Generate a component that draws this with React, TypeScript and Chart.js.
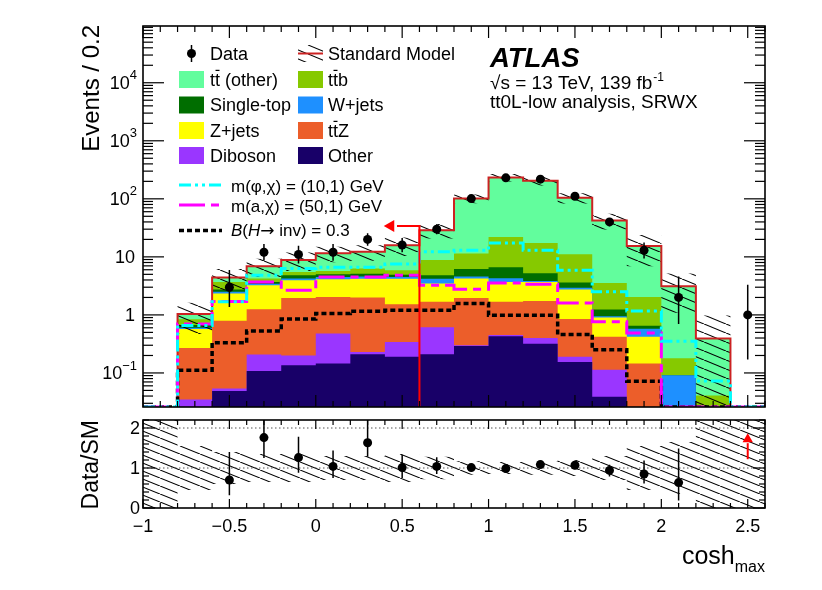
import React, { useEffect, useRef } from 'react'
import { Chart, registerables } from 'chart.js'

Chart.register(...registerables)

const FONT = '"Liberation Sans", Arial, Helvetica, sans-serif'

// cosh_max bins, width 0.2
const binEdges = [-1, -0.8, -0.6, -0.4, -0.2, 0, 0.2, 0.4, 0.6, 0.8, 1, 1.2, 1.4, 1.6, 1.8, 2, 2.2, 2.4, 2.6]

// SM backgrounds per bin, bottom of the stack first
const otherBkg = [0, 0, 0.049, 0.108, 0.136, 0.145, 0.21, 0.19, 0.21, 0.29, 0.43, 0.32, 0.155, 0.039, 0, 0, 0, 0]
const diboson = [0, 0.035, 0.005, 0.1, 0.064, 0.335, 0.02, 0.15, 0.4, 0.01, 0.02, 0.08, 0.035, 0.075, 0, 0, 0, 0]
const ttZ = [0, 0.235, 0.736, 1.04, 1.76, 1.56, 1.77, 1.19, 1.07, 1.66, 1.23, 1.34, 0.66, 0.306, 0.145, 0, 0, 0]
const zJets = [0, 0.3, 1.55, 2.0, 2.0, 2.06, 2.2, 2.67, 1.79, 2.28, 2.02, 1.96, 1.89, 0.48, 0.275, 0, 0, 0]
const wJets = [0, 0.03, 0.16, 0.2, 0.3, 0.4, 0.4, 0.3, 0.73, 0.36, 0.6, 0.15, 0.2, 0.05, 0.16, 0.091, 0, 0]
const singleTop = [0, 0.07, 0.24, 0.25, 0.54, 0.5, 0.5, 0.4, 0.6, 1.6, 2.3, 1.35, 0.66, 0.29, 0.07, 0, 0, 0]
const ttb = [0, 0.17, 0.96, 0.54, 0.7, 0.7, 1.2, 1.0, 4.0, 5.2, 15.4, 12.2, 7.5, 2.32, 1.39, 0.089, 0.041, 0]
const ttOther = [0, 0.2, 0.7, 2.66, 3.3, 5.8, 5.9, 10, 20, 89.6, 212, 186.6, 93, 38.9, 13.3, 2.94, 0.35, 0]

const stackColors = ['#180068', '#9a36ff', '#ec5e2a', '#ffff00', '#1e90ff', '#006e00', '#86c900', '#62fd9d']

// relative SM uncertainty per bin
const smUnc = [1.5, 0.55, 0.4, 0.35, 0.35, 0.3, 0.3, 0.35, 0.28, 0.17, 0.15, 0.17, 0.2, 0.3, 0.55, 0.65, 1.5, 1.5]

// signal hypotheses
const sigPhi = [0, 0.66, 1.68, 4.8, 6.3, 6.6, 6.6, 7.5, 12.2, 13, 17.4, 13, 5.9, 2.5, 1.17, 0.35, 0.073, 0]
const sigA = [0, 0.7, 1.7, 3.7, 2.67, 4.5, 4.5, 4.8, 3.25, 2.77, 3.56, 3.38, 1.61, 0.76, 0.49, 0, 0, 0]
const sigHinv = [0, 0.111, 0.33, 0.53, 0.85, 1.06, 1.16, 1.2, 1.2, 1.57, 0.99, 0.99, 0.46, 0.25, 0.072, 0, 0, 0]

// data
const dataX = [-0.5, -0.3, -0.1, 0.1, 0.3, 0.5, 0.7, 0.9, 1.1, 1.3, 1.5, 1.7, 1.9, 2.1, 2.5]
const dataY = [3, 12, 11, 12, 20, 16, 30, 101, 230, 218, 111, 40, 13, 2, 1]
const dataLo = [1.37, 8.6, 7.7, 8.6, 15.6, 12.0, 24.6, 91, 215, 203, 101, 33.7, 9.4, 0.7, 0.17]
const dataHi = [5.92, 16.6, 15.5, 16.6, 25.5, 21.1, 36.5, 111, 245, 234, 122, 46.8, 17.6, 4.6, 3.3]

// Data / SM
const ratioX = [-0.5, -0.3, -0.1, 0.1, 0.3, 0.5, 0.7, 0.9, 1.1, 1.3, 1.5, 1.7, 1.9, 2.1]
const ratioY = [0.7, 1.76, 1.26, 1.04, 1.63, 1.01, 1.04, 1.01, 0.985, 1.085, 1.07, 0.94, 0.85, 0.635]
const ratioLo = [0.32, 1.25, 0.88, 0.75, 1.28, 0.75, 0.85, 0.91, 0.92, 1.0, 0.97, 0.79, 0.61, 0.19]
const ratioHi = [1.4, 2.3, 1.78, 1.44, 2.3, 1.33, 1.27, 1.1, 1.05, 1.16, 1.17, 1.08, 1.19, 1.49]

// arrows (signal region cut, off-scale ratio point)
const cutX = 0.6
const cutArrowY = 34
const cutArrowEnd = 0.47
const cutArrowTip = 0.434
const offScaleX = 2.5
const offScaleArrow = [1.22, 1.62, 1.72]

const xTickLabels = [[-1, '−1'], [-0.5, '−0.5'], [0, '0'], [0.5, '0.5'], [1, '1'], [1.5, '1.5'], [2, '2'], [2.5, '2.5']]
const yTickLabels = [[1e4, '10', '4'], [1e3, '10', '3'], [1e2, '10', '2'], [10, '10', ''], [1, '1', ''], [0.1, '10', '−1']]

const Y_MIN = 0.0259
const Y_MAX = 9.5e4
const R_MIN = 0
const R_MAX = 2.2
const FLOOR = Y_MIN * 0.5

const steps = (vals: number[], floor: number, ceil = Infinity) => {
  const pts = vals.map((v, i) => ({ x: binEdges[i], y: Math.min(Math.max(v, floor), ceil) }))
  pts.push({ x: binEdges[vals.length], y: pts[pts.length - 1].y })
  return pts
}

const errorBars = (xs: number[], lo: number[], hi: number[]) => {
  const pts: any[] = []
  xs.forEach((x, i) => pts.push({ x, y: lo[i] }, { x, y: hi[i] }, { x, y: null }))
  return pts
}

function makeHatch(w: number, h: number) {
  const c = document.createElement('canvas')
  c.width = w
  c.height = h
  const g = c.getContext('2d')!
  g.strokeStyle = '#000'
  g.lineWidth = 1.1
  for (const dx of [-w, 0, w]) {
    g.beginPath()
    g.moveTo(dx, 0)
    g.lineTo(dx + w, h)
    g.stroke()
  }
  return g.createPattern(c, 'repeat')
}

function seg(ctx: CanvasRenderingContext2D, x1: number, y1: number, x2: number, y2: number) {
  ctx.beginPath()
  ctx.moveTo(x1, y1)
  ctx.lineTo(x2, y2)
  ctx.stroke()
}

function text(ctx: CanvasRenderingContext2D, s: string, x: number, y: number, size: number, align: CanvasTextAlign = 'left', style = '', family = FONT) {
  ctx.font = `${style} ${size}px ${family}`
  ctx.textAlign = align
  ctx.fillText(s, x, y)
  return ctx.measureText(s).width
}

// text with a bar over one character (t-bar)
function barText(ctx: CanvasRenderingContext2D, s: string, barAt: number, x: number, y: number, size: number) {
  ctx.font = `${size}px ${FONT}`
  ctx.textAlign = 'left'
  ctx.fillText(s, x, y)
  const x0 = x + ctx.measureText(s.slice(0, barAt)).width
  const w = ctx.measureText(s[barAt]).width
  ctx.lineWidth = 1.2
  seg(ctx, x0 + 0.5, y - size * 0.84, x0 + w - 0.5, y - size * 0.84)
}

export default function App() {
  const mainRef = useRef<HTMLCanvasElement | null>(null)
  const ratioRef = useRef<HTMLCanvasElement | null>(null)

  useEffect(() => {
    document.body.style.margin = '0'
    if (!mainRef.current || !ratioRef.current) return
    const hatchMain = makeHatch(22, 9)
    const hatchRatio = makeHatch(20, 8)

    const layers = [otherBkg, diboson, ttZ, zJets, wJets, singleTop, ttb, ttOther]
    const cum: number[][] = []
    layers.forEach((l, k) => cum.push(l.map((v, i) => v + (k > 0 ? cum[k - 1][i] : 0))))
    const total = cum[cum.length - 1]
    const bandLo = total.map((t, i) => t * (1 - smUnc[i]))
    const bandHi = total.map((t, i) => t * (1 + smUnc[i]))

    const stackSets = cum.map((c, k) => ({
      data: steps(c, FLOOR),
      stepped: true,
      borderWidth: 0,
      pointRadius: 0,
      fill: 'start',
      backgroundColor: stackColors[k],
      order: 40 + k,
    }))

    const mainAxes = {
      id: 'mainAxes',
      afterDraw(chart: any) {
        const ctx: CanvasRenderingContext2D = chart.ctx
        const { left, right, top, bottom } = chart.chartArea
        const xs = chart.scales.x
        const ys = chart.scales.y
        ctx.save()
        ctx.strokeStyle = '#000'
        ctx.fillStyle = '#000'
        ctx.lineWidth = 1.2
        for (let k = -10; k <= 26; k++) {
          const px = xs.getPixelForValue(k / 10)
          const len = k % 5 === 0 ? 12 : 6
          seg(ctx, px, bottom, px, bottom - len)
          seg(ctx, px, top, px, top + len)
        }
        for (let d = -2; d <= 5; d++) {
          for (let m = 1; m <= 9; m++) {
            const v = m * Math.pow(10, d)
            if (v < Y_MIN || v > Y_MAX) continue
            const py = ys.getPixelForValue(v)
            const len = m === 1 ? 21 : 10
            seg(ctx, left, py, left + len, py)
            seg(ctx, right, py, right - len, py)
          }
        }
        ctx.lineWidth = 1.6
        ctx.strokeRect(left, top, right - left, bottom - top)

        ctx.textBaseline = 'middle'
        yTickLabels.forEach(([v, base, sup]: any) => {
          const py = ys.getPixelForValue(v)
          if (sup) {
            ctx.font = `13px ${FONT}`
            const ws = ctx.measureText(sup).width
            text(ctx, sup, 137 - ws, py - 7, 13)
            text(ctx, base, 137 - ws, py + 1, 18, 'right')
          } else {
            text(ctx, base, 135, py + 1, 18, 'right')
          }
        })

        ctx.save()
        ctx.translate(92, 25)
        ctx.rotate(-Math.PI / 2)
        text(ctx, 'Events / 0.2', 0, 0, 24, 'right')
        ctx.restore()

        // legend
        ctx.textBaseline = 'alphabetic'
        const rows = [53.5, 79.5, 105, 130.5, 155.5]
        const lx1 = 179
        const lx2 = 298
        const fs = 18
        ctx.lineWidth = 1.5
        seg(ctx, 191.5, 45, 191.5, 62)
        ctx.beginPath()
        ctx.arc(191.5, rows[0], 4.5, 0, Math.PI * 2)
        ctx.fill()
        text(ctx, 'Data', 210, rows[0] + 6, fs)
        ctx.save()
        ctx.beginPath()
        ctx.rect(lx2, rows[0] - 8.5, 25, 17)
        ctx.clip()
        ctx.fillStyle = hatchMain as any
        ctx.fillRect(lx2, rows[0] - 8.5, 25, 17)
        ctx.restore()
        ctx.strokeStyle = '#cc2222'
        ctx.lineWidth = 2
        seg(ctx, lx2, rows[0], lx2 + 25, rows[0])
        ctx.strokeStyle = '#000'
        text(ctx, 'Standard Model', 328, rows[0] + 6, fs)

        const entries: [number, number, number, string, number][] = [
          [1, 0, 7, 'tt (other)', 1],
          [1, 1, 6, 'ttb', 1],
          [2, 0, 5, 'Single-top', -1],
          [2, 1, 4, 'W+jets', -1],
          [3, 0, 3, 'Z+jets', -1],
          [3, 1, 2, 'ttZ', 1],
          [4, 0, 1, 'Diboson', -1],
          [4, 1, 0, 'Other', -1],
        ]
        entries.forEach(([r, c, k, label, bar]) => {
          const bx = c === 0 ? lx1 : lx2
          ctx.fillStyle = stackColors[k]
          ctx.fillRect(bx, rows[r] - 8.5, 25, 17)
          ctx.fillStyle = '#000'
          const tx = c === 0 ? 210 : 328
          if (bar >= 0) barText(ctx, label, bar, tx, rows[r] + 6, fs)
          else text(ctx, label, tx, rows[r] + 6, fs)
        })

        const sigLeg: [number, string, number[], number][] = [
          [185, '#00ffff', [12, 4, 3, 4, 3, 4], 3],
          [205, '#ff00ff', [26, 6, 8, 6], 3],
          [230.5, '#000000', [5, 3], 3.5],
        ]
        sigLeg.forEach(([y, col, dash, lw]) => {
          ctx.strokeStyle = col
          ctx.lineWidth = lw
          ctx.setLineDash(dash)
          seg(ctx, lx1, y, 222, y)
        })
        ctx.setLineDash([])
        ctx.strokeStyle = '#000'
        const sfs = 17
        text(ctx, 'm(φ,χ) = (10,1) GeV', 231, 191.5, sfs)
        text(ctx, 'm(a,χ) = (50,1) GeV', 231, 211.5, sfs)
        let bx = 231
        bx += text(ctx, 'B', bx, 236, sfs, 'left', 'italic')
        bx += text(ctx, '(', bx, 236, sfs)
        bx += text(ctx, 'H', bx, 236, sfs, 'left', 'italic')
        bx += text(ctx, '→', bx, 236, sfs, 'left', '', '"DejaVu Sans", sans-serif')
        text(ctx, ' inv) = 0.3', bx, 236, sfs)

        // ATLAS label
        text(ctx, 'ATLAS', 490, 67, 27.5, 'left', 'italic bold')
        const w1 = text(ctx, '√s = 13 TeV, 139 fb', 490, 88.5, 19)
        text(ctx, '-1', 490 + w1 + 1, 81, 12)
        text(ctx, 'tt0L-low analysis, SRWX', 490, 107.5, 19)
        ctx.restore()
      },
    }

    const ratioAxes = {
      id: 'ratioAxes',
      afterDraw(chart: any) {
        const ctx: CanvasRenderingContext2D = chart.ctx
        const { left, right, top, bottom } = chart.chartArea
        const xs = chart.scales.x
        const ys = chart.scales.y
        ctx.save()
        ctx.strokeStyle = '#000'
        ctx.fillStyle = '#000'
        ctx.lineWidth = 1.2
        for (let k = -10; k <= 26; k++) {
          const px = xs.getPixelForValue(k / 10)
          const len = k % 5 === 0 ? 9 : 5
          seg(ctx, px, bottom, px, bottom - len)
          seg(ctx, px, top, px, top + len)
        }
        for (let k = 0; k <= 11; k++) {
          const py = ys.getPixelForValue(k / 5)
          const len = k % 5 === 0 ? 12 : 6
          seg(ctx, left, py, left + len, py)
          seg(ctx, right, py, right - len, py)
        }
        ctx.lineWidth = 1.6
        ctx.strokeRect(left, top, right - left, bottom - top)

        ctx.textBaseline = 'middle'
        ;[0, 1, 2].forEach((v) => text(ctx, String(v), 140, ys.getPixelForValue(v) + 1, 18, 'right'))
        xTickLabels.forEach(([v, s]: any) => text(ctx, s, xs.getPixelForValue(v), 113, 18, 'center'))

        ctx.textBaseline = 'alphabetic'
        ctx.font = `16px ${FONT}`
        const wSub = ctx.measureText('max').width
        text(ctx, 'max', 765 - wSub, 158, 16)
        text(ctx, 'cosh', 765 - wSub, 150, 25, 'right')

        ctx.save()
        ctx.translate(92, 6)
        ctx.rotate(-Math.PI / 2)
        ctx.textBaseline = 'middle'
        text(ctx, 'Data/SM', 0, 0, 23, 'right')
        ctx.restore()
        ctx.restore()
      },
    }

    const baseOptions = (yScale: any, padding: any) => ({
      animation: false as const,
      responsive: false,
      maintainAspectRatio: false,
      layout: { padding },
      elements: { point: { radius: 0 }, line: { tension: 0 } },
      plugins: { legend: { display: false }, tooltip: { enabled: false } },
      scales: {
        x: { type: 'linear' as const, min: -1, max: 2.6, display: false },
        y: yScale,
      },
    })

    const main = new Chart(mainRef.current, {
      type: 'line',
      data: {
        datasets: [
          ...stackSets,
          { data: steps(bandLo, FLOOR), stepped: true, borderWidth: 0, fill: false, order: 31 },
          { data: steps(bandHi, FLOOR), stepped: true, borderWidth: 0, fill: '-1', backgroundColor: hatchMain, order: 30 },
          { data: steps(total, FLOOR), stepped: true, borderColor: '#cc2222', borderWidth: 2, fill: false, order: 20 },
          { data: steps(sigHinv, Y_MIN), stepped: true, borderColor: '#000000', borderWidth: 3.5, borderDash: [5, 3], fill: false, order: 12 },
          { data: steps(sigA, Y_MIN), stepped: true, borderColor: '#ff00ff', borderWidth: 3, borderDash: [26, 6, 8, 6], fill: false, order: 11 },
          { data: steps(sigPhi, Y_MIN), stepped: true, borderColor: '#00ffff', borderWidth: 3, borderDash: [12, 4, 3, 4, 3, 4], fill: false, order: 10 },
          {
            data: [{ x: cutX, y: FLOOR }, { x: cutX, y: cutArrowY }, { x: cutArrowEnd, y: cutArrowY }],
            borderColor: '#ff0000', borderWidth: 2, fill: false, order: 5,
          },
          {
            data: [{ x: cutArrowTip, y: cutArrowY }], showLine: false, pointStyle: 'triangle', rotation: -90,
            pointRadius: 7, pointBackgroundColor: '#ff0000', pointBorderWidth: 0, order: 5,
          },
          { data: errorBars(dataX, dataLo, dataHi), borderColor: '#000', borderWidth: 1.5, spanGaps: false, fill: false, order: 2 },
          {
            data: dataX.map((x, i) => ({ x, y: dataY[i] })), showLine: false,
            pointRadius: 4.5, pointBackgroundColor: '#000', pointBorderWidth: 0, order: 1,
          },
        ] as any,
      },
      options: baseOptions(
        { type: 'logarithmic', min: Y_MIN, max: Y_MAX, display: false },
        { left: 143, right: 57, top: 26, bottom: 7 }
      ) as any,
      plugins: [mainAxes],
    })

    const ratio = new Chart(ratioRef.current, {
      type: 'line',
      data: {
        datasets: [
          { data: steps(smUnc.map((u) => 1 - u), -0.5), stepped: true, borderWidth: 0, fill: false, order: 31 },
          { data: steps(smUnc.map((u) => 1 + u), -0.5, 3), stepped: true, borderWidth: 0, fill: '-1', backgroundColor: hatchRatio, order: 30 },
          { data: [{ x: -1, y: 1 }, { x: 2.6, y: 1 }], borderColor: '#555', borderWidth: 1, borderDash: [1.5, 2.5], fill: false, order: 20 },
          { data: [{ x: -1, y: 2 }, { x: 2.6, y: 2 }], borderColor: '#555', borderWidth: 1, borderDash: [1.5, 2.5], fill: false, order: 20 },
          {
            data: [{ x: offScaleX, y: offScaleArrow[0] }, { x: offScaleX, y: offScaleArrow[1] }],
            borderColor: '#ff0000', borderWidth: 2, fill: false, order: 5,
          },
          {
            data: [{ x: offScaleX, y: offScaleArrow[2] }], showLine: false, pointStyle: 'triangle', rotation: 0,
            pointRadius: 6, pointBackgroundColor: '#ff0000', pointBorderWidth: 0, order: 5,
          },
          { data: errorBars(ratioX, ratioLo, ratioHi), borderColor: '#000', borderWidth: 1.5, spanGaps: false, fill: false, order: 2 },
          {
            data: ratioX.map((x, i) => ({ x, y: ratioY[i] })), showLine: false,
            pointRadius: 4.5, pointBackgroundColor: '#000', pointBorderWidth: 0, order: 1,
          },
        ] as any,
      },
      options: baseOptions(
        { type: 'linear', min: R_MIN, max: R_MAX, display: false },
        { left: 143, right: 57, top: 6, bottom: 82 }
      ) as any,
      plugins: [ratioAxes],
    })

    return () => {
      main.destroy()
      ratio.destroy()
    }
  }, [])

  return (
    <div style={{ position: 'relative', width: 822, height: 590, background: '#fff' }}>
      <canvas ref={mainRef} width={822} height={414} style={{ position: 'absolute', left: 0, top: 0 }} />
      <canvas ref={ratioRef} width={822} height={176} style={{ position: 'absolute', left: 0, top: 414 }} />
    </div>
  )
}
